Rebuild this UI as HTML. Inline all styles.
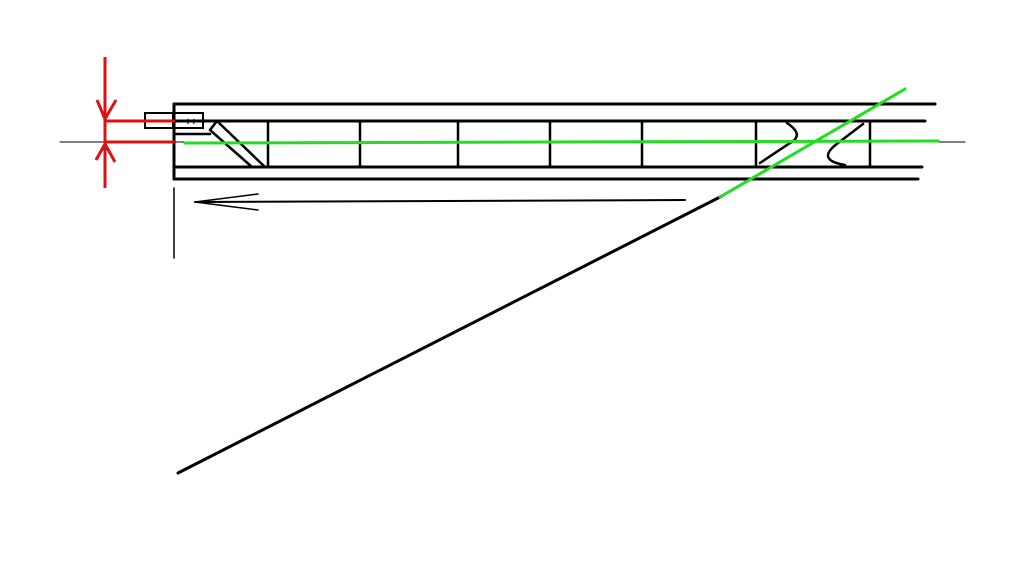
<!DOCTYPE html>
<html><head><style>body{margin:0;background:#fff}svg{display:block}</style></head><body>
<svg width="1024" height="565" viewBox="0 0 1024 565" xmlns="http://www.w3.org/2000/svg">
<rect width="1024" height="565" fill="#fff"/>
<g stroke="#000" fill="none" stroke-linecap="round">
<line x1="60" y1="142" x2="965" y2="142" stroke-width="1"/>
<line x1="174" y1="104" x2="935" y2="104" stroke-width="3"/>
<line x1="174" y1="121" x2="925" y2="121" stroke-width="3"/>
<line x1="174" y1="167" x2="922" y2="167" stroke-width="3"/>
<line x1="174" y1="179" x2="918" y2="179" stroke-width="3"/>
<line x1="174" y1="104" x2="174" y2="179" stroke-width="3"/>
<g stroke-width="2.5">
<line x1="268" y1="121" x2="268" y2="167"/>
<line x1="360" y1="121" x2="360" y2="167"/>
<line x1="458" y1="121" x2="458" y2="167"/>
<line x1="550" y1="121" x2="550" y2="167"/>
<line x1="642" y1="121" x2="642" y2="167"/>
<line x1="756" y1="121" x2="756" y2="167"/>
<line x1="870" y1="121" x2="870" y2="167"/>
<line x1="217" y1="121" x2="265" y2="167"/>
<line x1="210" y1="130" x2="252" y2="167"/>
<line x1="217" y1="121" x2="210" y2="130"/>
<line x1="175" y1="134" x2="210" y2="134"/>
<path d="M787 123 Q805 135 790 143 L760 163"/>
<path d="M863 124 L838 143 Q815 160 845 165"/>
</g>
<rect x="145" y="113" width="28" height="15" stroke-width="2"/>
<rect x="173" y="113" width="30" height="15" stroke-width="2"/>
<line x1="174" y1="188" x2="174" y2="258" stroke-width="1.5"/>
<line x1="195" y1="202" x2="685" y2="200" stroke-width="2"/>
<line x1="195" y1="202" x2="258" y2="194" stroke-width="1.5"/>
<line x1="195" y1="202" x2="258" y2="210" stroke-width="1.5"/>
<line x1="178" y1="473" x2="722" y2="196" stroke-width="3"/>
</g>
<g stroke="#22dd22" stroke-width="3" stroke-linecap="round">
<line x1="185" y1="143" x2="938" y2="141"/>
<line x1="720" y1="197" x2="905" y2="89"/>
</g>
<g stroke="#dd1111" stroke-width="3" fill="none">
<line x1="105" y1="57" x2="105" y2="188"/>
<line x1="105" y1="121" x2="175" y2="121"/>
<line x1="105" y1="142" x2="175" y2="142"/>
<polyline points="97,100 105,119 116,100"/>
<polyline points="96,160 105,144 115,162"/>
</g>
<text x="185" y="125" font-family="Liberation Sans, sans-serif" font-size="10" font-weight="bold">++</text>
</svg>
</body></html>
